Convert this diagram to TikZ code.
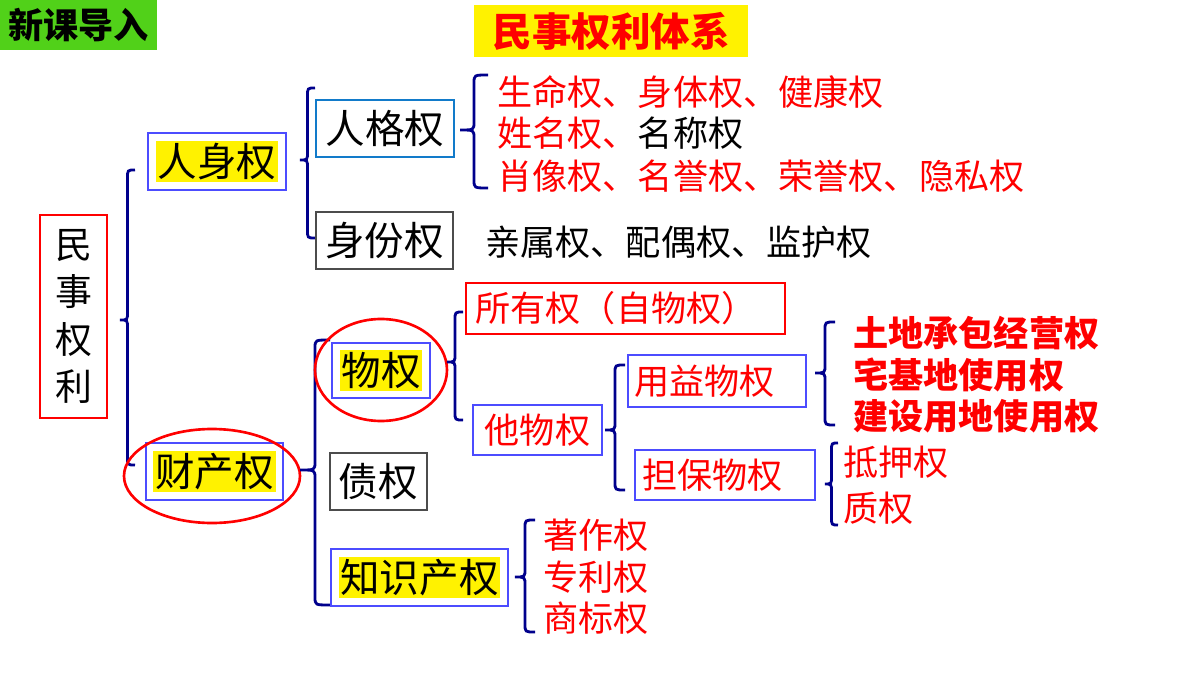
\documentclass[tikz,border=0pt]{standalone}
\usepackage{fontspec}
\setmainfont{Noto Sans CJK SC}
\begin{document}
\newcommand\hlt[1]{{\setlength{\fboxsep}{1pt}\colorbox{yellow}{#1}}}
\newcommand\brc[5]{% x, ytop, ytip, ybot, w
\draw[brc] (#1+#5,#2) .. controls (#1+#5/2,#2) .. (#1+#5/2,#2+8) -- (#1+#5/2,#3-8) .. controls (#1+#5/2,#3) .. (#1,#3) .. controls (#1+#5/2,#3) .. (#1+#5/2,#3+8) -- (#1+#5/2,#4-8) .. controls (#1+#5/2,#4) .. (#1+#5,#4);}
\begin{tikzpicture}[x=0.02cm,y=-0.02cm,
 brc/.style={draw=blue!55!black,line width=1.6pt},
 box/.style={draw=#1,line width=0.6pt,inner sep=0pt,font=\fontsize{22.5}{24}\selectfont},
 box/.default=blue!70,
 red list/.style={anchor=west,text=red,inner sep=0pt,font=\fontsize{20}{22}\selectfont},
 blk list/.style={anchor=west,text=black,inner sep=0pt,font=\fontsize{20}{22}\selectfont}]
\useasboundingbox (0,0) rectangle (1200,675);
\node[fill=green!60!lime!80!black!90,minimum width=157*0.02cm,minimum height=50*0.02cm,anchor=north west,inner sep=0pt,font=\bfseries\fontsize{20}{22}\selectfont] (g) at (0,0) {新课导入};
\node[fill=yellow,text=red,minimum width=274*0.02cm,minimum height=52*0.02cm,anchor=north west,inner sep=0pt,font=\bfseries\fontsize{22.5}{24}\selectfont] (t) at (474,5) {民事权利体系};
\node[box=red,minimum width=67*0.02cm,minimum height=203*0.02cm,align=center,font=\fontsize{21}{27}\selectfont] (ms) at (73.5,316.5) {民\\事\\权\\利};
\brc{120}{170}{320}{465}{15}
\node[box,minimum width=138*0.02cm,minimum height=57*0.02cm] (rs) at (217,161.5) {\hlt{人身权}};
\node[box,minimum width=137*0.02cm,minimum height=57*0.02cm] (cc) at (214.5,471.5) {\hlt{财产权}};
\draw[red,line width=1.5pt] (212,476) ellipse (88 and 47);
\brc{300}{88}{160}{238}{15}
\node[box=cyan!60!blue,minimum width=138*0.02cm,minimum height=57*0.02cm] (rg) at (385,128.5) {人格权};
\node[box=black!70,minimum width=137*0.02cm,minimum height=57*0.02cm] (sf) at (384.5,240.5) {身份权};
\brc{460}{75}{130}{188}{28}
\node[red list] (a1) at (497,92) {生命权、身体权、健康权};
\node[red list] (a2) at (497,133) {姓名权、\textcolor{black}{名称权}};
\node[red list] (a3) at (497,176) {肖像权、名誉权、荣誉权、隐私权};
\node[blk list] (b1) at (485,242) {亲属权、配偶权、监护权};
\brc{300}{340}{470}{605}{30}
\node[box,minimum width=98*0.02cm,minimum height=55*0.02cm] (wq) at (381,370.5) {\hlt{物权}};
\draw[red,line width=1.5pt] (381,370) ellipse (66 and 51);
\node[box=black!70,minimum width=97*0.02cm,minimum height=57*0.02cm] (zq) at (378.5,481.5) {债权};
\node[box,minimum width=177*0.02cm,minimum height=57*0.02cm] (zs) at (419.5,577.5) {\hlt{知识产权}};
\brc{447}{312}{362}{420}{16}
\node[box=red,text=red,minimum width=319*0.02cm,minimum height=51*0.02cm,font=\fontsize{20}{22}\selectfont,text width=300*0.02cm,align=left] (sy) at (625.5,308.5) {所有权（自物权）};
\node[box,text=red,minimum width=129*0.02cm,minimum height=50*0.02cm,font=\fontsize{20}{22}\selectfont] (tw) at (537.5,430) {他物权};
\brc{605}{365}{430}{490}{20}
\node[box,text=red,minimum width=178*0.02cm,minimum height=52*0.02cm,font=\fontsize{20}{22}\selectfont,text width=165*0.02cm,align=left] (yy) at (717,381) {用益物权};
\node[box,text=red,minimum width=180*0.02cm,minimum height=50*0.02cm,font=\fontsize{20}{22}\selectfont,text width=165*0.02cm,align=left] (db) at (725,475) {担保物权};
\brc{815}{322}{373}{425}{20}
\node[red list,font=\bfseries\fontsize{20}{22}\selectfont] (c1) at (853,333) {土地承包经营权};
\node[red list,font=\bfseries\fontsize{20}{22}\selectfont] (c2) at (853,375) {宅基地使用权};
\node[red list,font=\bfseries\fontsize{20}{22}\selectfont] (c3) at (853,416) {建设用地使用权};
\brc{825}{443}{484}{525}{13}
\node[red list] (d1) at (843,462) {抵押权};
\node[red list] (d2) at (843,508) {质权};
\brc{515}{520}{577}{632}{20}
\node[red list] (e1) at (543,535) {著作权};
\node[red list] (e2) at (543,577) {专利权};
\node[red list] (e3) at (543,618) {商标权};
\end{tikzpicture}
\end{document}
